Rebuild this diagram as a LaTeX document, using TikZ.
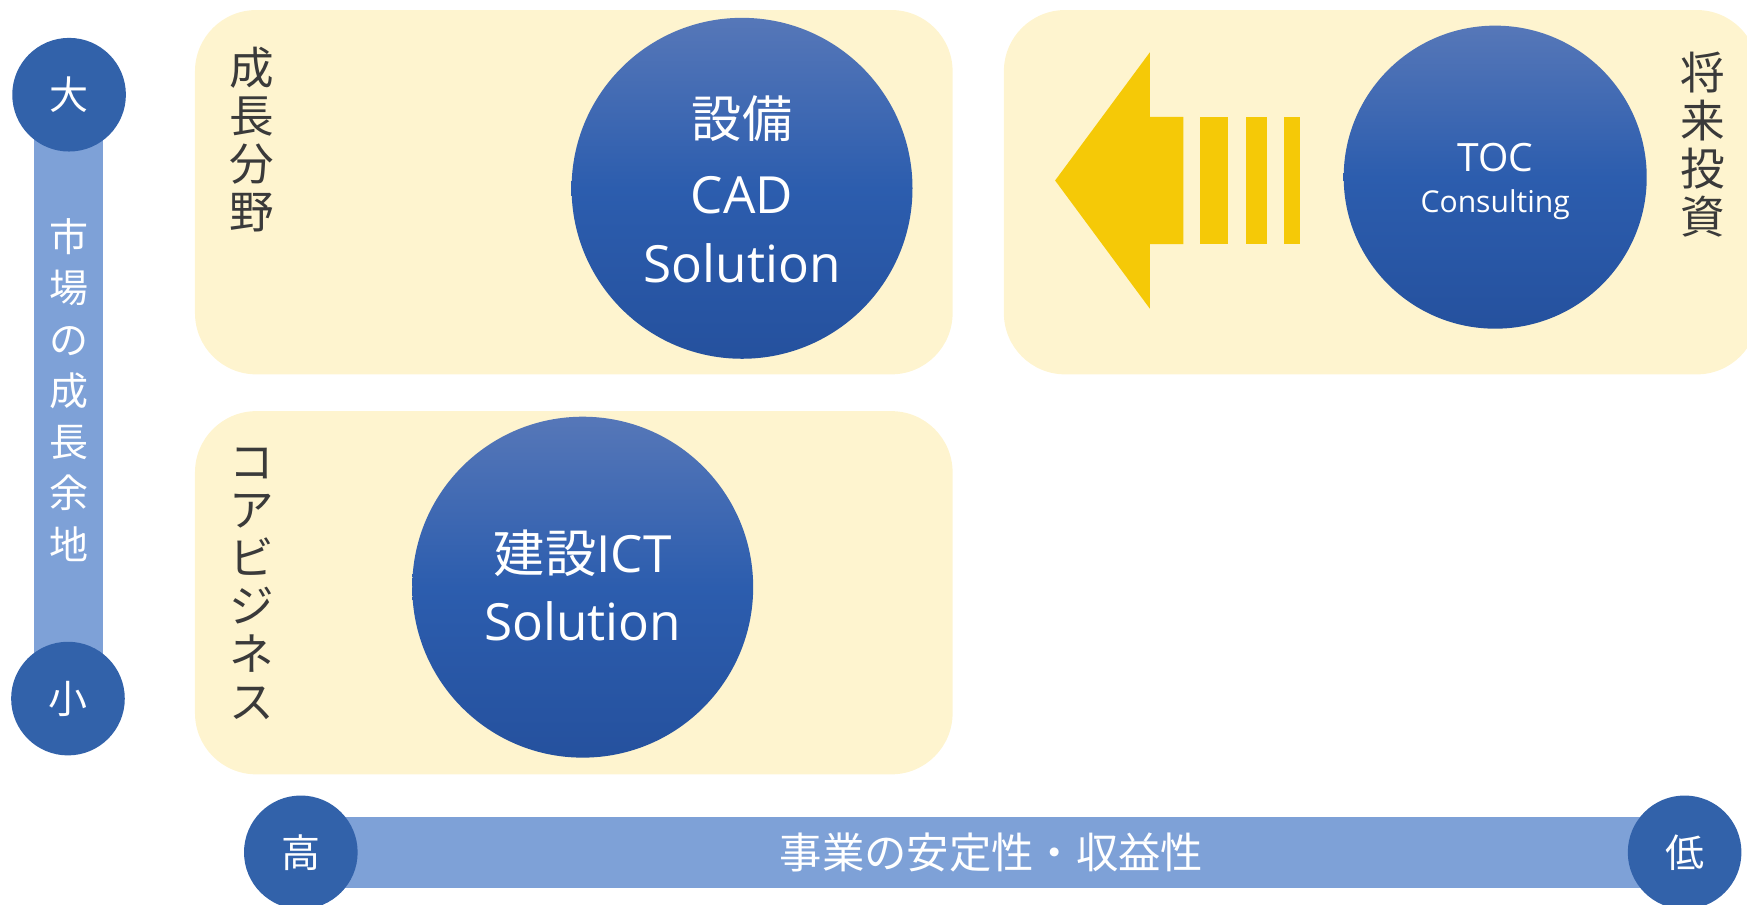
\documentclass[tikz,border=0pt]{standalone}
\usepackage{fontspec}
\setmainfont{Open Sans}
\newfontfamily\jp{Noto Sans CJK JP}
\usetikzlibrary{calc}
\definecolor{panelyellow}{HTML}{FEF4CF}
\definecolor{dotblue}{HTML}{3262AA}
\definecolor{barblue}{HTML}{7EA1D7}
\definecolor{gtop}{HTML}{5677B8}
\definecolor{gmid}{HTML}{2C5DAE}
\definecolor{gbot}{HTML}{25519E}
\definecolor{arrowyellow}{HTML}{F5C907}
\definecolor{labelgray}{HTML}{3A3A3A}
\begin{document}
\begin{tikzpicture}[x=1pt,y=-1pt,
  panel/.style={fill=panelyellow, rounded corners=55pt},
  dotc/.style={circle, fill=dotblue, minimum size=102pt, inner sep=0pt, text=white, font=\jp\fontsize{35}{35}\selectfont},
  bigc/.style={circle, minimum size=#1, inner sep=0pt, top color=gtop, bottom color=gbot, middle color=gmid},
  vlabel/.style={text=labelgray, align=center, inner sep=0pt, font=\jp\fontsize{40}{43}\selectfont},
  wtext/.style={text=white, inner sep=0pt},
  stripe/.style={fill=arrowyellow}
]
\useasboundingbox (0,0) rectangle (1568,812);
\clip (0,0) rectangle (1568,812);

% panels
\fill[panel] (175,9) rectangle (855,336);
\fill[panel] (901,9) rectangle (1578,336);
\fill[panel] (175,369) rectangle (855,695);

% axis anchor points
\coordinate (pbig) at (62,85);
\coordinate (psmall) at (61,627);
\coordinate (phigh) at (270,765);
\coordinate (plow) at (1512,765);

% vertical axis
\fill[barblue] ($(pbig)+(-31.5,0)$) rectangle ($(psmall)+(31.5,0)$);
\node[dotc] (big) at (pbig) {大};
\node[dotc] (small) at (psmall) {小};
\node[wtext, align=center, font=\jp\fontsize{35}{46}\selectfont] (vaxis) at (62,350) {市\\場\\の\\成\\長\\余\\地};

% horizontal axis
\fill[barblue] ($(phigh)+(0,-32)$) rectangle ($(plow)+(0,32)$);
\node[dotc] (high) at (phigh) {高};
\node[dotc] (low) at (plow) {低};
\node[wtext, font=\jp\fontsize{38}{38}\selectfont] (haxis) at (890,765) {事業の安定性・収益性};

% labels
\node[vlabel] (growth) at (226,125) {成\\長\\分\\野};
\node[vlabel] (core) at (226,524) {コ\\ア\\ビ\\ジ\\ネ\\ス};
\node[vlabel] (future) at (1528,130) {将\\来\\投\\資};

% big circles
\node[bigc=306pt] (cad) at (666,169) {};
\node[wtext, font=\jp\fontsize{45}{45}\selectfont] (cadA) at (666,106) {設備};
\node[wtext, font=\fontsize{46}{46}\selectfont] (cadB) at (666,175) {CAD};
\node[wtext, font=\fontsize{46}{46}\selectfont] (cadC) at (666,236) {Solution};

\node[bigc=306pt] (ict) at (523,527) {};
\node[wtext, font=\fontsize{46}{46}\selectfont] (ictA) at (523,497) {{\jp 建設}ICT};
\node[wtext, font=\fontsize{46}{46}\selectfont] (ictB) at (523,558) {Solution};

\node[bigc=272pt] (toc) at (1342,159) {};
\node[wtext, font=\fontsize{35}{35}\selectfont] (tocA) at (1342,141) {TOC};
\node[wtext, font=\fontsize{27}{27}\selectfont] (tocB) at (1342,184) {Consulting};

% arrow
\fill[arrowyellow] (947,162) -- (1032,47) -- (1032,105) -- (1062,105) -- (1062,219) -- (1032,219) -- (1032,277) -- cycle;
\fill[stripe] (1077,105) rectangle (1102,219);
\fill[stripe] (1118,105) rectangle (1137,219);
\fill[stripe] (1152,105) rectangle (1167,219);
\end{tikzpicture}
\end{document}
